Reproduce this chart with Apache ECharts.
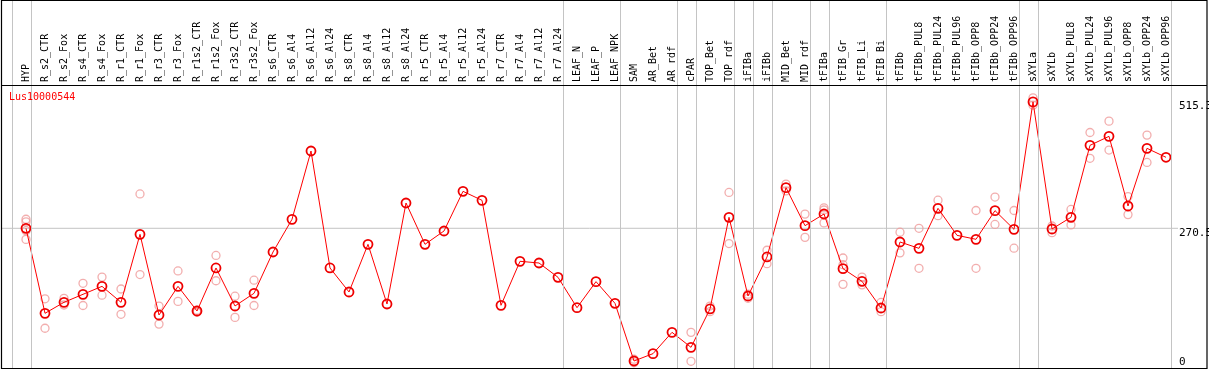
<!DOCTYPE html>
<html><head><meta charset="utf-8">
<script src="https://cdn.jsdelivr.net/npm/echarts@6/dist/echarts.min.js"></script>
<style>html,body{margin:0;padding:0;background:#fff}#c{width:1209px;height:370px}</style>
</head><body><div id="c"></div>
<script>
const geneName = 'Lus10000544';
const categories = ['HYP','R_s2_CTR','R_s2_Fox','R_s4_CTR','R_s4_Fox','R_r1_CTR','R_r1_Fox','R_r3_CTR','R_r3_Fox','R_r1s2_CTR','R_r1s2_Fox','R_r3s2_CTR','R_r3s2_Fox','R_s6_CTR','R_s6_Al4','R_s6_Al12','R_s6_Al24','R_s8_CTR','R_s8_Al4','R_s8_Al12','R_s8_Al24','R_r5_CTR','R_r5_Al4','R_r5_Al12','R_r5_Al24','R_r7_CTR','R_r7_Al4','R_r7_Al12','R_r7_Al24','LEAF_N','LEAF_P','LEAF_NPK','SAM','AR_Bet','AR_rdf','cPAR','TOP_Bet','TOP_rdf','iFIBa','iFIBb','MID_Bet','MID_rdf','tFIBa','tFIB_Gr','tFIB_Li','tFIB_Bi','tFIBb','tFIBb_PUL8','tFIBb_PUL24','tFIBb_PUL96','tFIBb_OPP8','tFIBb_OPP24','tFIBb_OPP96','sXYLa','sXYLb','sXYLb_PUL8','sXYLb_PUL24','sXYLb_PUL96','sXYLb_OPP8','sXYLb_OPP24','sXYLb_OPP96'];
const meanValues = [270.5,105.9,127.2,142.7,158.1,127.2,258.8,102.6,158.1,110.4,193.7,120.1,144.6,224.6,287.9,420.2,193.7,147.2,239.5,123.9,319.5,239.5,265.3,342.1,324.7,121.4,206.6,203.3,175.6,116.8,167.2,125.2,13.6,27.8,69.1,40.0,114.3,291.8,139.4,215.0,349.2,275.6,298.2,192.4,167.8,116.2,244.0,231.7,309.2,256.9,249.2,304.7,268.5,515.3,269.2,291.8,431.2,448.6,313.7,425.4,408.0];
const replicates = [[288,283,266,249],[134,77],[135,122],[164,121],[176,141],[153,104],[337,181],[120,85],[188,129],[112,108],[218,169],[139,98],[170,121],[],[],[],[],[],[],[],[],[],[],[],[],[],[],[],[],[],[],[],[17,10],[],[],[69,13],[120,109],[340,241],[135,143],[228,202],[356,343],[298,253],[310,306,281],[213,200,162],[176,161],[127,109],[263,223],[270.5,193],[325,295],[],[305,193],[331,278],[305,232],[523,509],[275,262],[307,277],[456,406],[478,422],[332,297],[451,398],[]];
const yTickLabels = [0, 270.5, 515.3];
const groupLast = ['HYP','R_r7_Al24','LEAF_NPK','AR_rdf','cPAR','TOP_rdf','iFIBa','iFIBb','MID_rdf','tFIBa','tFIB_Bi','tFIBb_OPP96','sXYLa','sXYLb_OPP96'];

const FONT = 'DejaVu Sans Mono';
const Y_MAX = 712.6;
const GRAY = '#c4c4c4';
const repData = [];
replicates.forEach((arr, i) => arr.forEach(v => repData.push([categories[i], v])));
const sepX = [-0.75].concat(groupLast.map(n => categories.indexOf(n) + 0.25));
const X2_MIN = -25 / 19, X2_MAX = 1152 / 19;

const chart = echarts.init(document.getElementById('c'), null, {renderer: 'canvas'});
chart.setOption({
  animation: false,
  backgroundColor: '#fff',
  title: {text: geneName, left: 9, top: 92, padding: 0,
    textStyle: {color: '#ff0000', fontSize: 10, fontWeight: 'normal', fontFamily: FONT}},
  grid: [
    {left: 16.5, right: 33.5, top: 0, bottom: 2, containLabel: false, outerBoundsMode: 'none'},
    {left: 1, right: 31, top: 0, bottom: 2, containLabel: false, outerBoundsMode: 'none'}
  ],
  xAxis: [
    {type: 'category', gridIndex: 0, data: categories, position: 'top', offset: -85,
     boundaryGap: true,
     axisLine: {show: false}, axisTick: {show: false}, splitLine: {show: false},
     axisLabel: {rotate: 90, interval: 0, margin: 3, fontSize: 10, fontFamily: FONT, color: '#000'}},
    {type: 'value', gridIndex: 1, min: X2_MIN, max: X2_MAX, show: false, splitLine: {show: false}}
  ],
  yAxis: [
    {type: 'value', gridIndex: 0, min: 0, max: Y_MAX, show: false, splitLine: {show: false}},
    {type: 'value', gridIndex: 1, min: 0, max: Y_MAX, position: 'right',
     axisLine: {show: false}, axisTick: {show: false}, splitLine: {show: false},
     axisLabel: {customValues: yTickLabels, margin: 1, align: 'left', fontSize: 11, fontFamily: FONT, color: '#000',
       formatter: v => v === 0 ? '{z|0}' : '{t|' + v + '}',
       rich: {z: {padding: [0, 0, 12, 0], fontSize: 11, fontFamily: FONT, color: '#000'},
              t: {padding: [9, 0, 0, 0], fontSize: 11, fontFamily: FONT, color: '#000'}}}}
  ],
  graphic: [
    {type: 'rect', shape: {x: 1.5, y: 0.5, width: 1205.5, height: 368}, style: {fill: 'none', stroke: '#000', lineWidth: 1.2}, z: 100},
    {type: 'line', shape: {x1: 1, y1: 85.5, x2: 1207, y2: 85.5}, style: {stroke: '#000', lineWidth: 1.2}, z: 100}
  ],
  series: [
    {type: 'line', xAxisIndex: 1, yAxisIndex: 1, silent: true, symbol: 'none', z: 1,
     data: [[X2_MIN, yTickLabels[1]], [X2_MAX, yTickLabels[1]]],
     lineStyle: {color: GRAY, width: 1},
     markLine: {silent: true, symbol: 'none', label: {show: false}, animation: false,
       lineStyle: {color: GRAY, width: 1, type: 'solid'},
       data: sepX.map(x => ({xAxis: x}))}},
    {type: 'scatter', xAxisIndex: 0, yAxisIndex: 0, data: repData, symbol: 'circle', symbolSize: 8, z: 2,
     itemStyle: {color: 'rgba(0,0,0,0)', borderColor: '#ef9a9a', borderWidth: 1.3}},
    {type: 'line', xAxisIndex: 0, yAxisIndex: 0, data: meanValues, symbol: 'circle', symbolSize: 9, showAllSymbol: true, z: 3,
     lineStyle: {color: '#ff0000', width: 1},
     itemStyle: {color: 'rgba(0,0,0,0)', borderColor: '#ee0000', borderWidth: 1.8}}
  ]
});
</script>
</body></html>
